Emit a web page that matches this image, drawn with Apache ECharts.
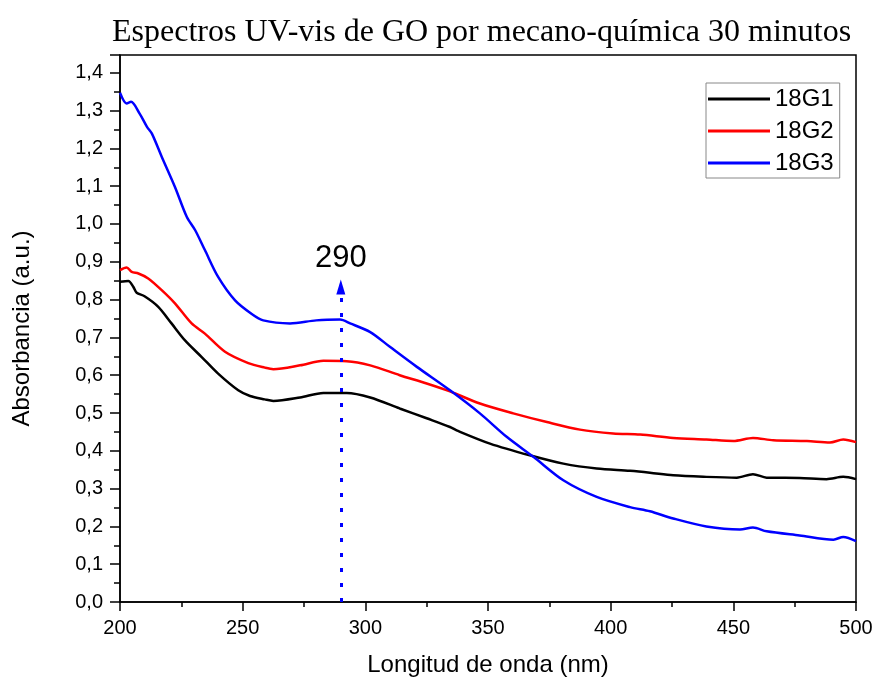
<!DOCTYPE html>
<html><head><meta charset="utf-8">
<script src="https://cdn.jsdelivr.net/npm/echarts@6/dist/echarts.min.js"></script>
<style>html,body{margin:0;padding:0;background:#fff}#c{width:877px;height:683px}</style>
</head><body><div id="c"></div>
<script>
const titleText = 'Espectros UV-vis de GO por mecano-química 30 minutos';
const xName = 'Longitud de onda (nm)';
const yName = 'Absorbancia (a.u.)';
const seriesNames = ['18G1', '18G2', '18G3'];
const peakX = 290;
const peakLabel = '290';

const g1X = [200, 203.4, 205.4, 206.8, 210, 215.6, 221, 226.5, 233.3, 240, 248.2, 253, 259, 262.5, 273.4, 282.9, 292.4, 302, 314, 325, 334.5, 337.2, 350.8, 367, 380.7, 394.3, 407.9, 416, 425.5, 439, 451.4, 458, 463.6, 477, 488, 494.8, 500];
const g1Y = [0.847, 0.849, 0.834, 0.818, 0.809, 0.781, 0.737, 0.692, 0.648, 0.604, 0.560, 0.545, 0.536, 0.532, 0.541, 0.553, 0.553, 0.541, 0.512, 0.486, 0.463, 0.454, 0.419, 0.388, 0.366, 0.353, 0.347, 0.342, 0.335, 0.331, 0.329, 0.338, 0.329, 0.328, 0.325, 0.331, 0.325];

const g2X = [200, 202.7, 204.8, 207.5, 211.5, 217, 222.4, 229.2, 234.6, 242.8, 252.3, 259, 262.5, 273.4, 282.9, 292.4, 302, 314, 325, 334.5, 346.7, 360.3, 374, 387.5, 401, 412, 425.5, 439, 450, 458, 466.3, 480, 489.4, 494.8, 500];
const g2Y = [0.878, 0.885, 0.873, 0.869, 0.856, 0.825, 0.790, 0.737, 0.710, 0.662, 0.632, 0.620, 0.616, 0.626, 0.638, 0.637, 0.626, 0.600, 0.578, 0.557, 0.525, 0.499, 0.476, 0.456, 0.446, 0.443, 0.434, 0.430, 0.426, 0.434, 0.428, 0.426, 0.422, 0.430, 0.423];

const g3X = [200, 202.7, 204.5, 208, 211, 213, 217, 222.4, 227.2, 230.6, 234.6, 240, 246.9, 253.7, 258.4, 269.3, 280, 289.7, 293.8, 302, 310, 321, 334.5, 346.7, 357.6, 368.5, 380.7, 394.3, 407.9, 416, 425.5, 439, 452.7, 458, 463.6, 477, 490.8, 494.8, 500];
const g3Y = [1.347, 1.319, 1.323, 1.292, 1.257, 1.239, 1.178, 1.098, 1.019, 0.984, 0.931, 0.860, 0.798, 0.762, 0.745, 0.737, 0.745, 0.747, 0.737, 0.714, 0.675, 0.622, 0.560, 0.499, 0.437, 0.384, 0.322, 0.278, 0.251, 0.240, 0.221, 0.200, 0.192, 0.197, 0.187, 0.176, 0.165, 0.172, 0.161];

const xTicks = [200, 250, 300, 350, 400, 450, 500];

const zip = (xs, ys) => xs.map((x, i) => [x, ys[i]]);
const colors = ['#000000', '#ff0000', '#0000ff'];
const fmtY = v => v.toFixed(1).replace('.', ',');

const chart = echarts.init(document.getElementById('c'));
chart.setOption({
  animation: false,
  backgroundColor: '#ffffff',
  title: {
    text: titleText, left: 107, top: 12,
    textStyle: {fontFamily: 'Liberation Serif', fontSize: 32, fontWeight: 'normal', color: '#000'}
  },
  legend: {
    orient: 'vertical', left: 706, top: 83,
    data: seriesNames,
    icon: 'rect', itemWidth: 62, itemHeight: 3, itemGap: 8,
    padding: [4, 6, 3, 2],
    borderColor: '#888', borderWidth: 1,
    textStyle: {fontFamily: 'Liberation Sans', fontSize: 24, color: '#000', lineHeight: 24}
  },
  grid: {left: 120, top: 55, right: 21, bottom: 81, show: true, borderColor: '#000', borderWidth: 1.5, backgroundColor: 'transparent'},
  xAxis: {
    type: 'value', min: 200, max: 500, interval: 50,
    name: xName, nameLocation: 'middle', nameGap: 51,
    nameTextStyle: {fontFamily: 'Liberation Sans', fontSize: 24, color: '#000'},
    axisLine: {lineStyle: {color: '#000', width: 1.5}},
    axisTick: {length: 9, lineStyle: {color: '#000', width: 1.5}},
    minorTick: {show: true, splitNumber: 2, length: 5, lineStyle: {color: '#000', width: 1.5}},
    splitLine: {show: false},
    axisLabel: {fontFamily: 'Liberation Sans', fontSize: 20, color: '#000', margin: 16,
      formatter: v => xTicks.includes(v) ? String(v) : ''}
  },
  yAxis: {
    type: 'value', min: 0, max: 1.447, interval: 0.1,
    name: yName, nameLocation: 'middle', nameGap: 86, nameRotate: 90,
    nameTextStyle: {fontFamily: 'Liberation Sans', fontSize: 24, color: '#000'},
    axisLine: {show: true, lineStyle: {color: '#000', width: 1.5}},
    axisTick: {show: true, length: 10, lineStyle: {color: '#000', width: 1.5}},
    minorTick: {show: true, splitNumber: 2, length: 6, lineStyle: {color: '#000', width: 1.5}},
    splitLine: {show: false},
    axisLabel: {fontFamily: 'Liberation Sans', fontSize: 20, color: '#000', margin: 17, showMaxLabel: false,
      formatter: v => (Math.abs(v * 10 - Math.round(v * 10)) < 1e-6 ? fmtY(v) : '')}
  },
  series: [
    {name: seriesNames[0], type: 'line', data: zip(g1X, g1Y), smooth: 0.3, showSymbol: false, symbol: 'none',
      lineStyle: {color: colors[0], width: 2.5}, itemStyle: {color: colors[0]}},
    {name: seriesNames[1], type: 'line', data: zip(g2X, g2Y), smooth: 0.3, showSymbol: false, symbol: 'none',
      lineStyle: {color: colors[1], width: 2.5}, itemStyle: {color: colors[1]}},
    {name: seriesNames[2], type: 'line', data: zip(g3X, g3Y), smooth: 0.3, showSymbol: false, symbol: 'none',
      lineStyle: {color: colors[2], width: 2.5}, itemStyle: {color: colors[2]},
      markLine: {
        silent: true, symbol: ['none', 'none'],
        lineStyle: {color: colors[2], width: 3, type: [4, 11]},
        label: {show: false},
        data: [[{coord: [peakX, 0]}, {coord: [peakX, 0.815]}]]
      },
      markPoint: {
        silent: true,
        data: [
          {coord: [peakX, 0.833], symbol: 'triangle', symbolSize: [9, 15], itemStyle: {color: colors[2]}, label: {show: false}},
          {coord: [peakX, 0.91], symbol: 'circle', symbolSize: 0,
            label: {show: true, formatter: peakLabel, fontFamily: 'Liberation Sans', fontSize: 31, color: '#000', position: 'inside'}}
        ]
      }
    }
  ]
});
</script></body></html>
